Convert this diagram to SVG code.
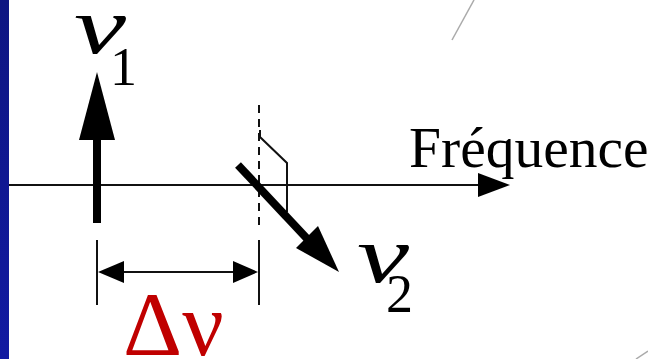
<svg xmlns="http://www.w3.org/2000/svg" width="648" height="359" viewBox="0 0 648 359">
<defs>
<linearGradient id="blue" x1="0" y1="0" x2="0" y2="1">
<stop offset="0" stop-color="#0e1682"/>
<stop offset="1" stop-color="#121aa2"/>
</linearGradient>
</defs>
<style>
.ln{stroke:#111;stroke-width:2;fill:none}
.thick{stroke:#000;stroke-width:8;fill:none}
.head{fill:#000;stroke:none}
.lbl{font-family:"Liberation Serif","Times New Roman",serif;fill:#000}
.nu{font-style:italic}
.red{fill:#c00000}
</style>
<rect x="0" y="0" width="648" height="359" fill="#fff"/>
<rect x="0" y="0" width="9" height="359" fill="url(#blue)"/>
<line x1="452" y1="40" x2="474" y2="0" stroke="#aaa" stroke-width="1.5"/>
<line x1="636" y1="359" x2="648" y2="351" stroke="#aaa" stroke-width="1.5"/>
<g id="connectors">
<line id="axis" class="ln" x1="9" y1="185" x2="480" y2="185"/>
<polygon class="head" points="478,173 510,185 478,197"/>
<line class="ln" x1="259" y1="105" x2="259" y2="228" stroke-dasharray="8,6"/>
<polyline class="ln" points="260,130 260,137 287,163 287,212"/>
<line class="ln" x1="97" y1="240" x2="97" y2="305"/>
<line class="ln" x1="259" y1="240" x2="259" y2="305"/>
<line class="ln" x1="120" y1="272" x2="236" y2="272"/>
<polygon class="head" points="98,272 124,261 124,283"/>
<polygon class="head" points="258,272 233,261 233,283"/>
</g>
<g id="nu1">
<line class="thick" x1="97" y1="138" x2="97" y2="223"/>
<polygon class="head" points="97,72 79,140 115,140"/>
<text class="lbl nu" x="74" y="53" font-size="80" textLength="52" lengthAdjust="spacingAndGlyphs">ν</text>
<text class="lbl" x="110" y="85" font-size="54">1</text>
</g>
<g id="nu2">
<line class="thick" x1="238" y1="165" x2="313" y2="245"/>
<polygon class="head" points="339,272 296,248 318,226"/>
<text class="lbl nu" x="357" y="282" font-size="80" textLength="52" lengthAdjust="spacingAndGlyphs">ν</text>
<text class="lbl" x="386" y="312" font-size="54">2</text>
</g>
<g id="freq">
<text class="lbl" x="409" y="167" font-size="57.5">Fréquence</text>
</g>
<g id="delta">
<text class="lbl red" x="123" y="355" font-size="92">Δν</text>
</g>
</svg>
